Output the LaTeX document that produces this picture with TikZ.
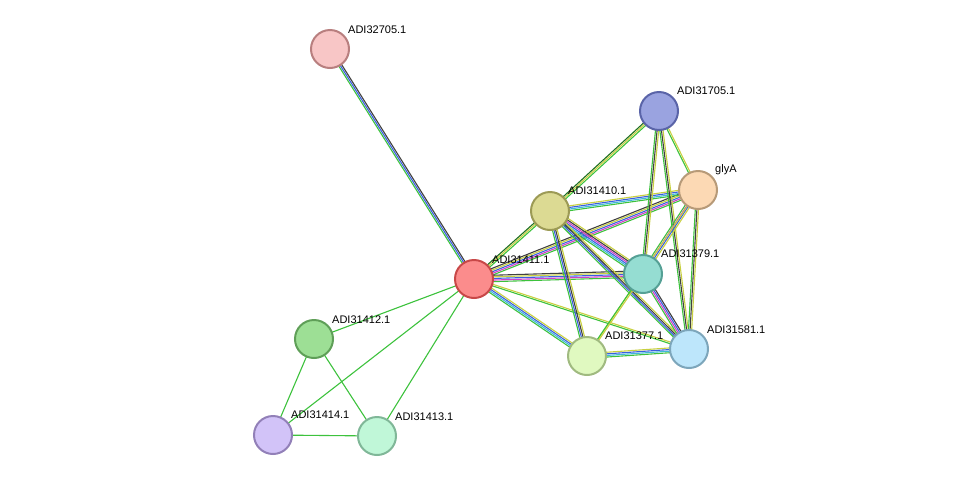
\documentclass[tikz,border=0pt]{standalone}
\usepackage{fontspec}
\setmainfont{Liberation Sans}
\usetikzlibrary{calc}

\definecolor{eGreen}{HTML}{3DC23D}
\definecolor{eBlue}{HTML}{3A5FE0}
\definecolor{eDark}{HTML}{404040}
\definecolor{eYellow}{HTML}{C8D040}
\definecolor{eMag}{HTML}{D040C8}
\definecolor{eCyan}{HTML}{40B8D8}
\definecolor{eDGreen}{HTML}{207020}

\tikzset{
  prot/.style n args={2}{circle, minimum size=38pt, line width=2pt, inner sep=0pt,
    /utils/exec={\definecolor{pFill}{HTML}{#1}\definecolor{pDraw}{HTML}{#2}},
    fill=pFill, draw=pDraw},
  plabel/.style={font=\fontsize{11}{13}\selectfont, anchor=south west, inner sep=1pt}
}

% draw n parallel coloured strands between two nodes
\newcommand{\strands}[4]{%
  \foreach \c [count=\i] in {#4} {
    \pgfmathsetmacro{\off}{(\i-(#3+1)/2)*1.6}
    \draw[\c, line width=1.1pt] ($(#1)!\off pt!90:(#2)$) -- ($(#2)!\off pt!-90:(#1)$);
  }}

\begin{document}
\begin{tikzpicture}[x=1pt,y=-1pt]
\useasboundingbox (0,0) rectangle (975,483);

\coordinate (p32705) at (330,49);
\coordinate (p31705) at (659,111);
\coordinate (pglyA) at (698,190);
\coordinate (p31410) at (550,211);
\coordinate (p31411) at (474,279);
\coordinate (p31379) at (643,274);
\coordinate (p31412) at (314,339);
\coordinate (p31377) at (587,356);
\coordinate (p31581) at (689,349);
\coordinate (p31414) at (273,435);
\coordinate (p31413) at (377,436);

% edges
\strands{p32705}{p31411}{3}{eGreen,eBlue,eDark}
\strands{p31411}{p31412}{1}{eGreen}
\strands{p31411}{p31414}{1}{eGreen}
\strands{p31411}{p31413}{1}{eGreen}
\strands{p31412}{p31414}{1}{eGreen}
\strands{p31412}{p31413}{1}{eGreen}
\strands{p31414}{p31413}{1}{eGreen}
\strands{p31411}{p31410}{3}{eGreen,eYellow,eDGreen}
\strands{p31411}{pglyA}{5}{eGreen,eMag,eBlue,eYellow,eDark}
\strands{p31411}{p31379}{5}{eGreen,eMag,eBlue,eYellow,eDark}
\strands{p31411}{p31377}{4}{eGreen,eCyan,eBlue,eYellow}
\strands{p31411}{p31581}{2}{eGreen,eYellow}
\strands{p31410}{p31705}{3}{eGreen,eYellow,eDGreen}
\strands{p31410}{pglyA}{4}{eGreen,eCyan,eBlue,eYellow}
\strands{p31410}{p31379}{6}{eGreen,eCyan,eBlue,eMag,eDark,eYellow}
\strands{p31410}{p31581}{4}{eGreen,eBlue,eDark,eYellow}
\strands{p31410}{p31377}{4}{eGreen,eBlue,eDark,eYellow}
\strands{p31705}{pglyA}{2}{eGreen,eYellow}
\strands{p31705}{p31379}{3}{eGreen,eDark,eYellow}
\strands{p31705}{p31581}{3}{eGreen,eDark,eYellow}
\strands{pglyA}{p31379}{4}{eGreen,eMag,eBlue,eYellow}
\strands{pglyA}{p31581}{3}{eGreen,eDark,eYellow}
\strands{pglyA}{p31377}{1}{eYellow}
\strands{p31379}{p31581}{4}{eGreen,eMag,eBlue,eDark}
\strands{p31379}{p31377}{2}{eGreen,eYellow}
\strands{p31377}{p31581}{4}{eGreen,eCyan,eBlue,eYellow}

% proteins
\node[prot={F8C6C6}{B87F7F}] (n32705) at (p32705) {};
\node[prot={9AA3E0}{5A64A8}] (n31705) at (p31705) {};
\node[prot={FCD9B4}{B79A78}] (nglyA) at (pglyA) {};
\node[prot={DCDA93}{9C9A55}] (n31410) at (p31410) {};
\node[prot={FB8C8C}{C84848}] (n31411) at (p31411) {};
\node[prot={95DDD2}{55A095}] (n31379) at (p31379) {};
\node[prot={9DDF95}{5F9F58}] (n31412) at (p31412) {};
\node[prot={E0F9C0}{A0BA80}] (n31377) at (p31377) {};
\node[prot={BDE6FB}{7DA6BB}] (n31581) at (p31581) {};
\node[prot={D2C3F8}{9280B8}] (n31414) at (p31414) {};
\node[prot={C0F7D8}{80B798}] (n31413) at (p31413) {};

% labels
\node[plabel] at (347,35) {ADI32705.1};
\node[plabel] at (676,96) {ADI31705.1};
\node[plabel] at (714,176) {glyA};
\node[plabel] at (567,196) {ADI31410.1};
\node[plabel] at (491,265) {ADI31411.1};
\node[plabel] at (660,259) {ADI31379.1};
\node[plabel] at (331,325) {ADI31412.1};
\node[plabel] at (604,341) {ADI31377.1};
\node[plabel] at (706,335) {ADI31581.1};
\node[plabel] at (290,420) {ADI31414.1};
\node[plabel] at (394,422) {ADI31413.1};
\end{tikzpicture}
\end{document}
